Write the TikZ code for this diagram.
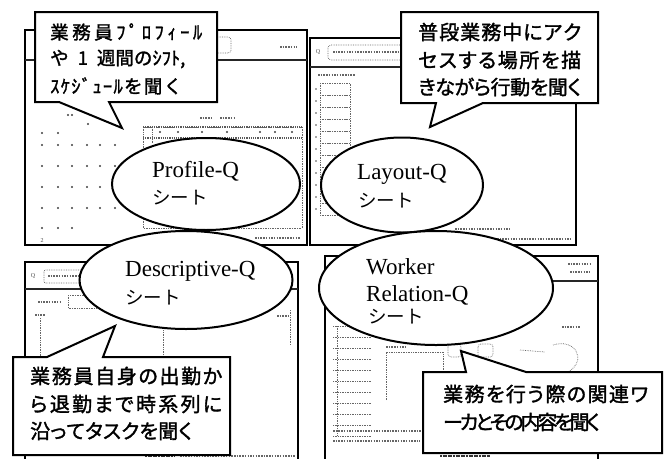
\documentclass[tikz,border=0pt]{standalone}
\usepackage{fontspec}
\setmainfont{Liberation Serif}
\newfontfamily\jp{Noto Sans CJK JP}
\newfontfamily\jpb{Noto Sans CJK JP}[FakeBold=1.6]
\newfontfamily\jpp{Noto Sans CJK JP}[RawFeature=+palt, FakeBold=1.6]
\usetikzlibrary{shapes.geometric}
\makeatletter
\newcommand\spreadto[2]{\makebox[#1][s]{\spread@loop#2\relax}}
\def\spread@loop#1{#1\futurelet\spread@next\spread@check}
\def\spread@check{\ifx\spread@next\relax\expandafter\@gobble\else\expandafter\spread@glue\fi}
\def\spread@glue{\hskip 0pt plus 1fil minus 1fil\spread@loop}
\makeatother
\begin{document}
\begin{tikzpicture}[x=1pt,y=-1pt,
  sheet/.style={draw=black, line width=1.8pt, fill=white},
  hdr/.style={line width=2.2pt, black!85},
  dots/.style={draw=black!60, densely dotted, line width=0.7pt},
  scrib/.style={draw=black!60, line width=1.3pt, dash pattern=on 1.5pt off 1.2pt},
  callout/.style={draw=black, line width=2pt, fill=white, line join=miter},
  bubble/.style={ellipse, draw=black, line width=2pt, fill=white, inner sep=0pt},
  ctext/.style={anchor=west, inner sep=0pt, font=\jpp\fontsize{20}{24}\selectfont},
  ctexta/.style={anchor=west, inner sep=0pt, font=\jpb\fontsize{18.5}{22}\selectfont},
  etext/.style={anchor=base west, inner sep=0pt, font=\fontsize{23}{27}\selectfont},
  ejp/.style={anchor=west, inner sep=0pt, font=\jp\fontsize{18.5}{22}\selectfont},
  tinyt/.style={inner sep=0pt, font=\fontsize{6}{7}\selectfont, text=black!70}
]
\useasboundingbox (0,0) rectangle (666,458);
\fill[white] (0,0) rectangle (666,458);

% ---------- sheet A (top-left) ----------
\draw[sheet] (25,30) rectangle (307,245);
\draw[hdr] (25,60) -- (307,60);
\draw[dots, rounded corners=3pt] (150,37) rectangle (231,53);
\draw[scrib] (280,47) -- (297,47);
\foreach \y in {145,166,187,208} \foreach \x in {42,58,72,87,100,115} {\fill[black!75] (\x,\y) circle (1.1);}
\foreach \x in {42,58} {\fill[black!75] (\x,133) circle (1.1);}
\foreach \x in {42,58,72} {\fill[black!75] (\x,228) circle (1.1);}
\fill[black!75] (68,115) circle (1.1) (72,115) circle (1.1) (88,124) circle (1.1);
\node[tinyt] (a2) at (42,241) {2};
\draw[dots] (143,127) rectangle (302,228);
\draw[black!65, line width=1.2pt, densely dotted] (143,127) -- (302,127) (143,138) -- (302,138);
\draw[dots] (152,127) -- (152,143);
\foreach \x in {160,178,202,227,260,275,292} {\fill[black!75] (\x,132) circle (1.1);}
\draw[scrib] (200,118) -- (212,118) (220,118) -- (235,118);
\draw[scrib] (255,238) -- (300,238);

% ---------- sheet B (top-right) ----------
\draw[sheet] (310,38) rectangle (576,245);
\draw[hdr] (310,67) -- (576,67);
\node[tinyt] (bq) at (318,52) {Q};
\draw[dots, rounded corners=3pt] (328,45) rectangle (412,60);
\draw[scrib] (333,52) -- (398,52);
\draw[scrib] (318,75) -- (355,75);
\foreach \i in {0,...,10} {\draw[dots] (320,83+12*\i) rectangle (350,95+12*\i);}
\foreach \i in {0,...,10} {\fill[black!70] (316,89+12*\i) circle (0.9);}
\draw[scrib] (455,229) -- (510,229);
\draw[scrib] (470,239) -- (572,239);

% ---------- sheet C (bottom-left) ----------
\draw[sheet] (25,470) -- (25,262) -- (298,262) -- (298,470);
\draw[hdr] (25,289) -- (298,289);
\node[tinyt] (cq) at (33,276) {Q};
\draw[dots, rounded corners=2pt] (44,270) rectangle (95,283);
\draw[scrib] (48,276) -- (80,276);
\draw[scrib] (38,302) -- (62,302);
\draw[dots] (68,295) rectangle (120,308);
\draw[dots] (40,318) -- (40,362);
\draw[scrib] (35,315) -- (45,315);
\draw[dots] (163,325) -- (163,357);
\draw[dots] (290,310) -- (290,345);
\draw[scrib] (277,316) -- (289,316);
\draw[line width=1.5pt, black!80, dash pattern=on 2pt off 0.6pt] (145,456) -- (175,456);
\draw[scrib] (180,456) -- (295,456);

% ---------- sheet D (bottom-right) ----------
\draw[sheet] (325,470) -- (325,256) -- (598,256) -- (598,470);
\draw[hdr] (325,281) -- (598,281);
\draw[scrib] (568,264) -- (591,264) (570,272) -- (590,272);
\foreach \i in {0,...,10} {\draw[dots] (333,326+11*\i) -- (372,326+11*\i);}
\draw[dots] (337,326) -- (337,436);
\draw[scrib] (386,347) -- (405,347);
\draw[dots] (386,400) -- (386,352) -- (443,352) -- (443,400);
\draw[dots, rounded corners=3pt] (448,344) rectangle (461,357);
\draw[dots, rounded corners=3pt] (478,344) rectangle (493,357);
\draw[scrib] (562,327) -- (580,327);
\draw[dots] (553,345) .. controls (575,338) and (588,360) .. (568,372);
\draw[dots] (520,350) -- (545,352);
\draw[scrib] (333,431) -- (430,431);
\draw[scrib] (333,441) -- (420,441);
\draw[line width=1.5pt, black!80, dash pattern=on 2pt off 0.6pt] (440,456) -- (490,456);

% ---------- ellipses ----------
\node[bubble, minimum width=188pt, minimum height=92pt] (e1) at (206,184) {};
\node[etext] (e1a) at (152,177) {Profile-Q};
\node[ejp] (e1b) at (152,198) {シート};

\node[bubble, minimum width=162pt, minimum height=95pt] (e2) at (402,185) {};
\node[etext] (e2a) at (357,179) {Layout-Q};
\node[ejp] (e2b) at (358,201) {シート};

\node[bubble, minimum width=213pt, minimum height=98pt] (e3) at (186,280) {};
\node[etext] (e3a) at (125,276) {Descriptive-Q};
\node[ejp] (e3b) at (125,298) {シート};

\node[bubble, minimum width=234pt, minimum height=114pt] (e4) at (436,288) {};
\node[etext] (e4a) at (366,274) {Worker};
\node[etext] (e4b) at (366,301) {Relation-Q};
\node[ejp] (e4c) at (368,317) {シート};

% ---------- callouts ----------
\draw[callout] (35,12) -- (217,12) -- (217,102) -- (109,102) -- (122,128) -- (59,102) -- (35,102) -- cycle;
\node[ctexta] (c1a) at (50,32) {\spreadto{152pt}{業務員ﾌﾟﾛﾌｨｰﾙ}};
\node[ctexta] (c1b) at (50,59) {や\hspace{9pt}1\hspace{9pt}週間のｼﾌﾄ,};
\node[ctexta] (c1c) at (50,86) {\spreadto{132pt}{ｽｹｼﾞｭｰﾙを聞く}};

\draw[callout] (401,12) -- (598,12) -- (598,103) -- (483,103) -- (430,127) -- (436,103) -- (401,103) -- cycle;
\node[ctext] (c2a) at (418,32) {\spreadto{163pt}{普段業務中にアク}};
\node[ctext] (c2b) at (418,60) {\spreadto{163pt}{セスする場所を描}};
\node[ctext] (c2c) at (418,87) {\spreadto{163pt}{きながら行動を聞く}};

\draw[callout] (13,357) -- (47,357) -- (115,326) -- (103,357) -- (230,357) -- (230,455) -- (13,455) -- cycle;
\node[ctext] (c3a) at (30,376) {\spreadto{192pt}{業務員自身の出勤か}};
\node[ctext] (c3b) at (30,404) {\spreadto{192pt}{ら退勤まで時系列に}};
\node[ctext] (c3c) at (30,431) {\spreadto{162pt}{沿ってタスクを聞く}};

\draw[callout] (423,372) -- (466,372) -- (461,351) -- (526,372) -- (662,372) -- (662,453) -- (423,453) -- cycle;
\node[ctext] (c4a) at (443,394) {\spreadto{205pt}{業務を行う際の関連ワ}};
\node[ctext] (c4b) at (443,422) {\spreadto{157pt}{ーカとその内容を聞く}};
\end{tikzpicture}
\end{document}
